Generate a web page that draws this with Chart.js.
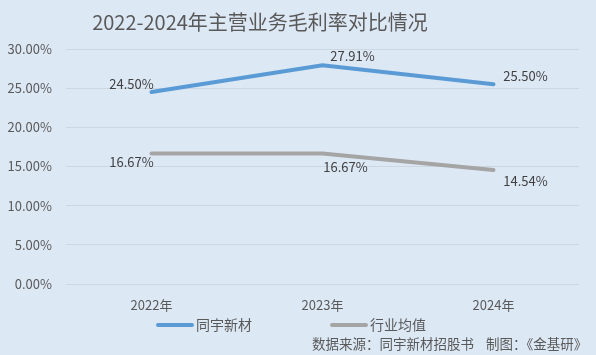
<!DOCTYPE html>
<html><head><meta charset="utf-8">
<script src="https://cdn.jsdelivr.net/npm/chart.js@4/dist/chart.umd.min.js"></script>
<style>html,body{margin:0;padding:0;background:#dde8f5;}#wrap{width:596px;height:355px;position:relative;}</style>
</head><body><div id="wrap"><canvas id="c" width="596" height="355"></canvas></div>
<script>
const categories = ['2022年','2023年','2024年'];
const seriesNames = ['同宇新材','行业均值'];
const tongyu = [24.50, 27.91, 25.50];
const industry = [16.67, 16.67, 14.54];
const yTicks = [0,5,10,15,20,25,30];
const titleText = '2022-2024年主营业务毛利率对比情况';
const sourceText = '数据来源：同宇新材招股书    制图：《金基研》';

const FONT = '"Noto Sans CJK SC","Noto Sans",sans-serif';
// label offsets per dataset/point (style only)
const labelPos = [
  [{dx:-20,dy:-8},{dx:30,dy:-9},{dx:32,dy:-8}],
  [{dx:-20,dy:9},{dx:23,dy:14},{dx:32,dy:11}]
];
const deco = {
  id:'deco',
  afterDatasetsDraw(chart){
    const ctx = chart.ctx;
    ctx.save();
    ctx.font = '13px '+FONT;
    ctx.fillStyle = '#404040';
    ctx.textAlign='center'; ctx.textBaseline='middle';
    chart.data.datasets.forEach((ds,i)=>{
      const meta = chart.getDatasetMeta(i);
      meta.data.forEach((pt,j)=>{
        const o = labelPos[i][j];
        ctx.fillText(ds.data[j].toFixed(2)+'%', pt.x+o.dx, pt.y+o.dy);
      });
    });
    ctx.restore();
  },
  afterDraw(chart){
    const ctx = chart.ctx;
    ctx.save();
    ctx.fillStyle='#595959';
    ctx.font='20px '+FONT;
    ctx.textAlign='center'; ctx.textBaseline='middle';
    ctx.fillText(titleText, 260, 22);
    // legend
    ctx.font='14px '+FONT;
    ctx.textAlign='left';
    const lx=[158,332];
    chart.data.datasets.forEach((ds,i)=>{
      ctx.strokeStyle=ds.borderColor; ctx.lineWidth=4; ctx.lineCap='round';
      ctx.beginPath(); ctx.moveTo(lx[i],325); ctx.lineTo(lx[i]+34,325); ctx.stroke();
      ctx.fillStyle='#595959';
      ctx.fillText(ds.label, lx[i]+38, 325);
    });
    ctx.font='13.5px '+FONT;
    ctx.fillStyle='#595959';
    ctx.fillText(sourceText, 312, 344);
    ctx.restore();
  }
};
new Chart(document.getElementById('c'),{
  type:'line',
  data:{labels:categories,datasets:[
    {label:seriesNames[0],data:tongyu,borderColor:'#5b9bd5',borderWidth:4,pointRadius:0,tension:0,borderCapStyle:'round'},
    {label:seriesNames[1],data:industry,borderColor:'#a5a5a5',borderWidth:4,pointRadius:0,tension:0,borderCapStyle:'round'}
  ]},
  options:{
    responsive:false,animation:false,
    layout:{padding:{top:49,bottom:41,right:17,left:0}},
    plugins:{legend:{display:false},title:{display:false},tooltip:{enabled:false}},
    scales:{
      x:{offset:true,grid:{display:false,offset:true},border:{display:false},
         ticks:{color:'#595959',font:{family:FONT,size:13},padding:5},
         afterFit(s){s.height=30;}},
      y:{min:0,max:30,afterBuildTicks(s){s.ticks=yTicks.map(v=>({value:v}));},
         grid:{color:'#cdd7e2',lineWidth:1,drawTicks:false},border:{display:false},
         ticks:{color:'#595959',font:{family:FONT,size:13},padding:14,callback:v=>v.toFixed(2)+'%'},
         afterFit(s){s.width=66;}}
    }
  },
  plugins:[deco]
});
</script></body></html>
